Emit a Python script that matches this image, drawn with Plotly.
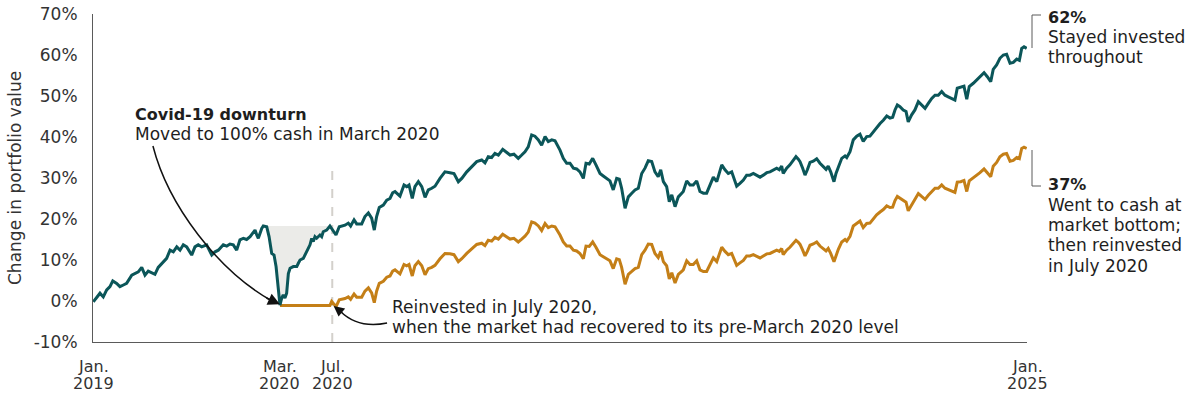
import plotly.graph_objects as go

# ---------------- data ----------------
years_since_2019 = [
    0.002, 0.045, 0.066, 0.088, 0.109, 0.127, 0.152, 0.173, 0.195, 0.216,
    0.249, 0.270, 0.291, 0.313, 0.334, 0.355, 0.377, 0.398, 0.419, 0.452,
    0.473, 0.495, 0.516, 0.538, 0.559, 0.580, 0.602, 0.634, 0.655, 0.676,
    0.698, 0.730, 0.763, 0.784, 0.805, 0.837, 0.859, 0.880, 0.901, 0.923,
    0.944, 0.966, 0.987, 1.009, 1.030, 1.041, 1.052, 1.062, 1.084, 1.094,
    1.116, 1.131, 1.148, 1.163, 1.176, 1.190, 1.201, 1.212, 1.222, 1.233,
    1.244, 1.255, 1.266, 1.287, 1.309, 1.319, 1.330, 1.351, 1.362, 1.373,
    1.394, 1.405, 1.415, 1.426, 1.437, 1.458, 1.469, 1.479, 1.501, 1.522,
    1.533, 1.561, 1.582, 1.619, 1.640, 1.655, 1.677, 1.694, 1.726, 1.747,
    1.769, 1.790, 1.807, 1.822, 1.839, 1.865, 1.887, 1.908, 1.925, 1.940,
    1.972, 1.998, 2.015, 2.030, 2.051, 2.068, 2.090, 2.112, 2.133, 2.154,
    2.176, 2.197, 2.229, 2.261, 2.293, 2.319, 2.347, 2.369, 2.401, 2.433,
    2.465, 2.497, 2.518, 2.539, 2.561, 2.582, 2.604, 2.632, 2.653, 2.679,
    2.704, 2.732, 2.754, 2.775, 2.796, 2.818, 2.839, 2.861, 2.882, 2.904,
    2.925, 2.947, 2.968, 3.000, 3.021, 3.043, 3.064, 3.086, 3.107, 3.128,
    3.150, 3.167, 3.188, 3.210, 3.231, 3.257, 3.278, 3.300, 3.321, 3.342,
    3.364, 3.381, 3.396, 3.418, 3.439, 3.461, 3.482, 3.503, 3.525, 3.546,
    3.567, 3.589, 3.610, 3.631, 3.647, 3.664, 3.685, 3.702, 3.718, 3.739,
    3.760, 3.782, 3.792, 3.814, 3.835, 3.856, 3.878, 3.899, 3.921, 3.942,
    3.964, 3.985, 4.007, 4.023, 4.039, 4.060, 4.081, 4.103, 4.124, 4.135,
    4.156, 4.178, 4.199, 4.220, 4.242, 4.263, 4.285, 4.306, 4.328, 4.349,
    4.375, 4.392, 4.409, 4.424, 4.434, 4.456, 4.477, 4.499, 4.516, 4.531,
    4.542, 4.559, 4.574, 4.589, 4.606, 4.627, 4.649, 4.670, 4.691, 4.709,
    4.723, 4.739, 4.760, 4.773, 4.788, 4.810, 4.831, 4.842, 4.863, 4.884,
    4.906, 4.927, 4.948, 4.970, 4.991, 5.013, 5.034, 5.056, 5.077, 5.099,
    5.120, 5.137, 5.152, 5.167, 5.184, 5.205, 5.223, 5.237, 5.259, 5.280,
    5.302, 5.323, 5.345, 5.366, 5.388, 5.409, 5.430, 5.452, 5.473, 5.494,
    5.516, 5.537, 5.552, 5.574, 5.595, 5.613, 5.629, 5.655, 5.677, 5.698,
    5.724, 5.745, 5.767, 5.783, 5.805, 5.826, 5.848, 5.869, 5.891, 5.912,
    5.934, 5.951, 5.966, 5.981, 5.998,
]

stayed_invested = [
    -0.2, 1.9, 1.0, 2.7, 3.5, 4.9, 4.3, 3.5, 3.9, 4.3,
    6.3, 6.7, 7.1, 8.2, 6.3, 7.3, 6.9, 6.5, 8.2, 9.6,
    10.4, 12.4, 12.0, 13.2, 12.4, 13.7, 13.2, 11.2, 13.2, 13.7,
    13.2, 13.7, 11.2, 12.0, 12.4, 13.7, 13.4, 13.9, 13.7, 12.4,
    14.9, 15.3, 15.0, 15.7, 16.9, 17.3, 16.1, 15.3, 17.7, 18.3,
    18.1, 15.7, 11.6, 11.2, 8.4, 2.7, -1.0, 0.7, 1.5, 0.7,
    1.9, 6.7, 8.0, 8.4, 8.4, 9.2, 10.0, 10.4, 11.2, 12.0,
    13.7, 15.3, 14.5, 15.7, 15.3, 16.1, 15.7, 16.9, 17.3, 18.3,
    17.7, 16.1, 18.1, 18.5, 19.0, 18.3, 19.8, 18.8, 18.8, 20.6,
    21.5, 20.2, 17.3, 20.6, 22.8, 23.4, 24.6, 25.0, 26.4, 26.7,
    25.6, 28.3, 27.9, 28.3, 25.0, 27.9, 29.1, 27.9, 25.3, 27.1,
    27.5, 28.0, 29.9, 31.5, 31.3, 31.1, 29.1, 29.9, 31.5, 32.8,
    34.0, 34.4, 33.7, 35.2, 35.0, 36.0, 35.6, 37.0, 36.4, 35.6,
    35.8, 34.8, 35.6, 36.4, 37.6, 40.5, 40.2, 39.3, 38.0, 40.1,
    38.9, 39.3, 39.1, 36.8, 34.8, 33.6, 33.6, 32.4, 32.2, 31.5,
    29.9, 33.6, 33.4, 34.8, 33.2, 31.1, 30.5, 29.9, 29.3, 27.1,
    29.9, 29.7, 27.5, 22.6, 25.4, 26.3, 27.1, 27.5, 31.1, 32.4,
    34.2, 34.0, 31.5, 30.3, 32.0, 29.1, 27.9, 24.2, 25.9, 23.0,
    25.4, 26.3, 26.7, 29.3, 28.3, 28.3, 29.3, 26.7, 26.3, 26.3,
    28.3, 30.2, 29.1, 31.1, 33.2, 32.0, 31.1, 31.5, 29.5, 28.0,
    28.7, 29.5, 30.7, 30.7, 31.1, 30.7, 30.2, 30.7, 31.3, 31.5,
    32.1, 32.4, 32.0, 32.9, 31.1, 32.4, 33.2, 34.4, 35.2, 34.6,
    34.0, 32.4, 30.7, 32.0, 33.8, 34.1, 34.7, 33.6, 32.8, 32.1,
    32.9, 31.5, 29.1, 31.1, 32.6, 34.8, 35.4, 35.0, 36.4, 39.3,
    40.2, 40.7, 38.9, 40.1, 40.2, 41.3, 42.5, 43.3, 44.1, 45.1,
    44.6, 44.8, 46.6, 47.8, 47.4, 46.6, 46.2, 43.7, 45.4, 46.6,
    48.6, 47.8, 47.0, 48.2, 49.4, 50.2, 50.2, 51.1, 50.2, 49.8,
    49.4, 49.0, 51.9, 52.1, 52.4, 49.2, 52.3, 53.1, 53.9, 54.7,
    55.7, 54.7, 53.5, 56.5, 57.6, 59.2, 60.0, 60.2, 58.0, 58.2,
    59.0, 58.7, 61.6, 62.0, 61.6,
]

# not yet in the strategy before the March 2020 bottom; then held in cash until July 2020
went_to_cash = [None] * 56 + [-1.1] * 24 + [
    -0.1, -1.4, 0.3, 0.6, 1.0, 0.4, 1.7, 0.9, 0.9, 2.4,
    3.2, 2.0, -0.4, 2.4, 4.3, 4.8, 5.8, 6.1, 7.3, 7.6,
    6.6, 8.9, 8.6, 8.9, 6.1, 8.6, 9.6, 8.6, 6.4, 7.9,
    8.2, 8.7, 10.3, 11.6, 11.5, 11.3, 9.6, 10.3, 11.6, 12.7,
    13.8, 14.1, 13.5, 14.8, 14.6, 15.5, 15.1, 16.3, 15.8, 15.1,
    15.3, 14.4, 15.1, 15.8, 16.8, 19.3, 19.0, 18.3, 17.2, 18.9,
    17.9, 18.3, 18.1, 16.1, 14.4, 13.4, 13.4, 12.4, 12.2, 11.6,
    10.3, 13.4, 13.3, 14.4, 13.1, 11.3, 10.8, 10.3, 9.8, 7.9,
    10.3, 10.1, 8.2, 4.1, 6.5, 7.2, 7.9, 8.2, 11.3, 12.4,
    13.9, 13.8, 11.6, 10.6, 12.1, 9.6, 8.6, 5.4, 6.9, 4.4,
    6.5, 7.2, 7.6, 9.8, 8.9, 8.9, 9.8, 7.6, 7.2, 7.2,
    8.9, 10.5, 9.6, 11.3, 13.1, 12.1, 11.3, 11.6, 9.9, 8.7,
    9.3, 9.9, 11.0, 11.0, 11.3, 11.0, 10.5, 11.0, 11.5, 11.6,
    12.2, 12.4, 12.1, 12.8, 11.3, 12.4, 13.1, 14.1, 14.8, 14.3,
    13.8, 12.4, 11.0, 12.1, 13.6, 13.9, 14.4, 13.4, 12.7, 12.2,
    12.8, 11.6, 9.6, 11.3, 12.6, 14.4, 15.0, 14.6, 15.8, 18.3,
    19.0, 19.5, 17.9, 18.9, 19.0, 20.0, 21.0, 21.7, 22.3, 23.2,
    22.8, 22.9, 24.5, 25.5, 25.1, 24.5, 24.1, 22.0, 23.4, 24.5,
    26.2, 25.5, 24.8, 25.8, 26.8, 27.5, 27.5, 28.3, 27.5, 27.2,
    26.8, 26.5, 29.0, 29.1, 29.4, 26.7, 29.3, 30.0, 30.7, 31.3,
    32.2, 31.3, 30.3, 32.9, 33.8, 35.2, 35.8, 36.0, 34.1, 34.3,
    35.0, 34.7, 37.2, 37.5, 37.2,
]

pre_crash_peak = 18.3          # level shaded against during the drawdown
drawdown_start, drawdown_end = 50, 80   # index slice of the drawdown / recovery
reinvest_time = 1.537          # July 2020 (years since Jan 2019)

y_tick_vals = [-10, 0, 10, 20, 30, 40, 50, 60, 70]
y_tick_text = ["-10%", "0%", "10%", "20%", "30%", "40%", "50%", "60%", "70%"]
x_tick_vals = [0, 1.201, 1.537, 6]
x_tick_month = ["Jan.", "Mar.", "Jul.", "Jan."]
x_tick_year = ["2019", "2020", "2020", "2025"]

# ---------------- styling ----------------
TEAL = "#0b5659"
GOLD = "#c47f17"
SHADE = "#ebebe8"
TXT = "#1e1e1e"
AX = "#5a5a5a"
FONT = "DejaVu Sans"

W, H = 1200, 396
ML, MT = 93, 14
PLOT_R, PLOT_B = 1027, 342
MR, MB = W - PLOT_R, H - PLOT_B
PW, PH = W - ML - MR, H - MT - MB


def px(xp, yp):
    """pixel position -> paper coordinates"""
    return (xp - ML) / PW, (PLOT_B - yp) / PH


fig = go.Figure()

seg_x = years_since_2019[drawdown_start:drawdown_end]
seg_y = stayed_invested[drawdown_start:drawdown_end]
fig.add_trace(go.Scatter(
    x=seg_x + seg_x[::-1],
    y=seg_y + [pre_crash_peak] * len(seg_x),
    fill="toself", fillcolor=SHADE, line=dict(width=0),
    mode="lines", hoverinfo="skip", showlegend=False,
))

fig.add_trace(go.Scatter(
    x=years_since_2019, y=went_to_cash, mode="lines",
    line=dict(color=GOLD, width=3), showlegend=False,
    name="Went to cash", connectgaps=False,
))
fig.add_trace(go.Scatter(
    x=years_since_2019, y=stayed_invested, mode="lines",
    line=dict(color=TEAL, width=3), showlegend=False,
    name="Stayed invested",
))

shapes = [
    dict(type="line", xref="x", yref="y", x0=reinvest_time, x1=reinvest_time,
         y0=-10, y1=33.7, line=dict(color="#d3d0cb", width=2, dash="dash"),
         layer="below"),
    dict(type="path", xref="x", yref="y",
         path="M 0.385,37.8 C 0.484,23.17 0.806,7.32 1.150,0.0",
         line=dict(color="#111111", width=1.5)),
    dict(type="path", xref="x", yref="y",
         path="M 1.889,-5.37 Q 1.702,-6.83 1.587,-2.44",
         line=dict(color="#111111", width=1.5)),
]

for (x0, y0, x1, y1) in [(1032, 15, 1032, 48), (1032, 15, 1041, 15),
                         (1032, 150, 1032, 186), (1032, 186, 1041, 186)]:
    a0, b0 = px(x0, y0)
    a1, b1 = px(x1, y1)
    shapes.append(dict(type="line", xref="paper", yref="paper",
                       x0=a0, y0=b0, x1=a1, y1=b1,
                       line=dict(color=AX, width=1)))

annotations = []


def label(text, xp, yp, size=17, anchor="left", color=TXT):
    ax_, ay_ = px(xp, yp)
    annotations.append(dict(
        text=text, xref="paper", yref="paper", x=ax_, y=ay_,
        xanchor=anchor, yanchor="middle", showarrow=False,
        font=dict(family=FONT, size=size, color=color)))


label("<b>Covid-19 downturn</b>", 133, 114, size=16)
label("Moved to 100% cash in March 2020", 133, 134)
label("Reinvested in July 2020,", 390, 307)
label("when the market had recovered to its pre-March 2020 level", 390, 327)

label("<b>62%</b>", 1046, 17, size=16)
for t, yp in zip(["Stayed invested", "throughout"], [37, 57]):
    label(t, 1046, yp)
label("<b>37%</b>", 1046, 184, size=16)
for t, yp in zip(["Went to cash at", "market bottom;",
                  "then reinvested", "in July 2020"], [205, 225, 245, 266]):
    label(t, 1046, yp)

for xv, m, yr in zip(x_tick_vals, x_tick_month, x_tick_year):
    for t, yp in [(m, 366), (yr, 383)]:
        annotations.append(dict(
            text=t, xref="x", yref="paper", x=xv, y=px(0, yp)[1],
            xanchor="center", yanchor="middle", showarrow=False,
            font=dict(family=FONT, size=16, color="#333333")))

tx, ty = px(15, 178)
annotations.append(dict(
    text="Change in portfolio value", xref="paper", yref="paper", x=tx, y=ty,
    textangle=-90, xanchor="center", yanchor="middle", showarrow=False,
    font=dict(family=FONT, size=17, color="#333333")))

annotations.append(dict(x=1.201, y=-0.8, xref="x", yref="y", ax=-15, ay=-7,
                        text="", showarrow=True, arrowhead=2, arrowsize=1.5,
                        arrowwidth=1.6, arrowcolor="#111111"))
annotations.append(dict(x=1.546, y=-1.2, xref="x", yref="y", ax=10, ay=8,
                        text="", showarrow=True, arrowhead=2, arrowsize=1.4,
                        arrowwidth=1.5, arrowcolor="#111111"))

fig.update_layout(
    width=W, height=H,
    margin=dict(l=ML, r=MR, t=MT, b=MB, pad=0),
    plot_bgcolor="white", paper_bgcolor="white",
    shapes=shapes, annotations=annotations,
    font=dict(family=FONT, size=17, color="#333333"),
    hovermode=False,
    xaxis=dict(range=[0, 6], showgrid=False, zeroline=False, automargin=False,
               showline=True, linecolor=AX, linewidth=1,
               tickvals=x_tick_vals, showticklabels=False, ticks=""),
    yaxis=dict(range=[-10, 70], showgrid=False, zeroline=False, automargin=False,
               showline=True, linecolor=AX, linewidth=1,
               tickvals=y_tick_vals, ticktext=y_tick_text, ticks="",
               ticklabelstandoff=11, ticklabeloverflow="allow",
               tickfont=dict(family=FONT, size=17, color="#333333")),
)

# remove the default page margin so the figure sits at the window's corner
fig.write_html("out.html",
               config={"displayModeBar": False},
               post_script="document.body.style.margin='0';"
                           "document.body.style.overflow='hidden';")
